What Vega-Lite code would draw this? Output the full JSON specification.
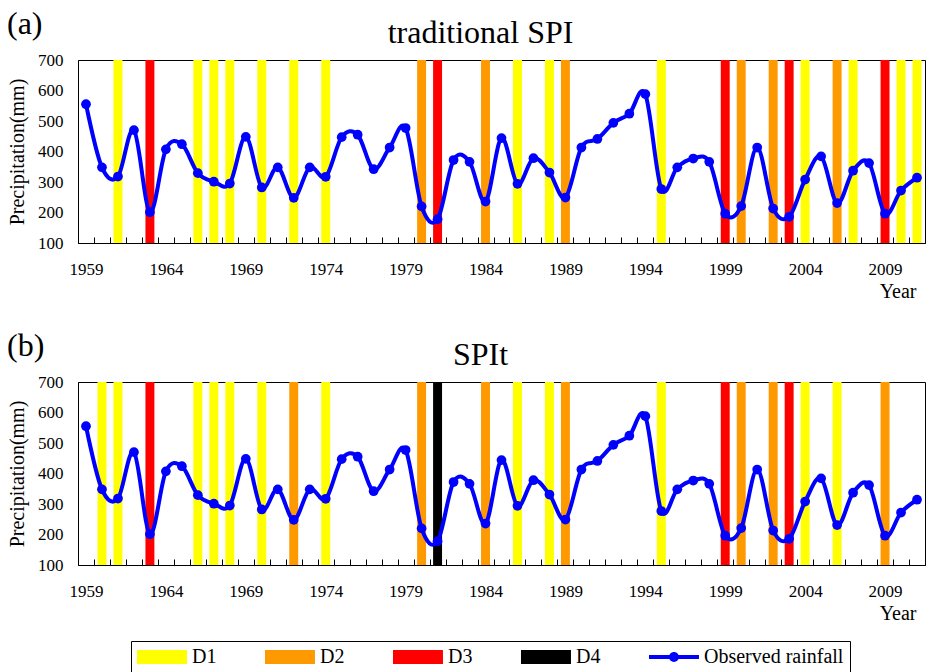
{
  "$schema": "https://vega.github.io/schema/vega-lite/v6.json",
  "padding": {"left": 7, "top": 7, "right": 2, "bottom": 0},
  "background": "white",
  "config": {
    "font": "Liberation Serif",
    "view": {"stroke": "black", "strokeWidth": 1},
    "axis": {"labelFont": "Liberation Serif", "titleFont": "Liberation Serif", "labelColor": "black", "titleColor": "black", "domainColor": "black", "tickColor": "black", "grid": false, "titleFontWeight": "normal", "labelFontSize": 17, "titleFontSize": 20, "labelOverlap": false},
    "axisY": {"labelOverlap": false, "ticks": false, "labelPadding": 15, "titlePadding": 10},
    "axisX": {"ticks": true, "tickSize": -6, "tickWidth": 1, "tickColor": "black", "labelPadding": 24, "labelAngle": 0, "labelOverlap": false, "titlePadding": 4},
    "title": {"font": "Liberation Serif", "fontWeight": "normal", "fontSize": 32, "color": "black"},
    "concat": {"spacing": 27}
  },
  "datasets": {
    "rain": [
      {"year": 1959, "precip": 555}, {"year": 1960, "precip": 348}, {"year": 1961, "precip": 318}, {"year": 1962, "precip": 470},
      {"year": 1963, "precip": 201}, {"year": 1964, "precip": 407}, {"year": 1965, "precip": 424}, {"year": 1966, "precip": 329},
      {"year": 1967, "precip": 301}, {"year": 1968, "precip": 295}, {"year": 1969, "precip": 448}, {"year": 1970, "precip": 282},
      {"year": 1971, "precip": 348}, {"year": 1972, "precip": 248}, {"year": 1973, "precip": 348}, {"year": 1974, "precip": 317},
      {"year": 1975, "precip": 447}, {"year": 1976, "precip": 455}, {"year": 1977, "precip": 342}, {"year": 1978, "precip": 413},
      {"year": 1979, "precip": 477}, {"year": 1980, "precip": 220}, {"year": 1981, "precip": 178}, {"year": 1982, "precip": 372},
      {"year": 1983, "precip": 366}, {"year": 1984, "precip": 236}, {"year": 1985, "precip": 444}, {"year": 1986, "precip": 294},
      {"year": 1987, "precip": 378}, {"year": 1988, "precip": 331}, {"year": 1989, "precip": 249}, {"year": 1990, "precip": 413},
      {"year": 1991, "precip": 441}, {"year": 1992, "precip": 494}, {"year": 1993, "precip": 524}, {"year": 1994, "precip": 588},
      {"year": 1995, "precip": 277}, {"year": 1996, "precip": 348}, {"year": 1997, "precip": 377}, {"year": 1998, "precip": 366},
      {"year": 1999, "precip": 196}, {"year": 2000, "precip": 221}, {"year": 2001, "precip": 413}, {"year": 2002, "precip": 213},
      {"year": 2003, "precip": 186}, {"year": 2004, "precip": 308}, {"year": 2005, "precip": 384}, {"year": 2006, "precip": 231},
      {"year": 2007, "precip": 337}, {"year": 2008, "precip": 362}, {"year": 2009, "precip": 196}, {"year": 2010, "precip": 272},
      {"year": 2011, "precip": 314}
    ],
    "spi": [
      {"year": 1961, "class": "D1"}, {"year": 1963, "class": "D3"}, {"year": 1966, "class": "D1"}, {"year": 1967, "class": "D1"},
      {"year": 1968, "class": "D1"}, {"year": 1970, "class": "D1"}, {"year": 1972, "class": "D1"}, {"year": 1974, "class": "D1"},
      {"year": 1980, "class": "D2"}, {"year": 1981, "class": "D3"}, {"year": 1984, "class": "D2"}, {"year": 1986, "class": "D1"},
      {"year": 1988, "class": "D1"}, {"year": 1989, "class": "D2"}, {"year": 1995, "class": "D1"}, {"year": 1999, "class": "D3"},
      {"year": 2000, "class": "D2"}, {"year": 2002, "class": "D2"}, {"year": 2003, "class": "D3"}, {"year": 2004, "class": "D1"},
      {"year": 2006, "class": "D2"}, {"year": 2007, "class": "D1"}, {"year": 2009, "class": "D3"}, {"year": 2010, "class": "D1"},
      {"year": 2011, "class": "D1"}
    ],
    "spit": [
      {"year": 1960, "class": "D1"}, {"year": 1961, "class": "D1"}, {"year": 1963, "class": "D3"}, {"year": 1966, "class": "D1"},
      {"year": 1967, "class": "D1"}, {"year": 1968, "class": "D1"}, {"year": 1970, "class": "D1"}, {"year": 1972, "class": "D2"},
      {"year": 1974, "class": "D1"}, {"year": 1980, "class": "D2"}, {"year": 1981, "class": "D4"}, {"year": 1984, "class": "D2"},
      {"year": 1986, "class": "D1"}, {"year": 1988, "class": "D1"}, {"year": 1989, "class": "D2"}, {"year": 1995, "class": "D1"},
      {"year": 1999, "class": "D3"}, {"year": 2000, "class": "D2"}, {"year": 2002, "class": "D2"}, {"year": 2003, "class": "D3"},
      {"year": 2004, "class": "D1"}, {"year": 2006, "class": "D1"}, {"year": 2009, "class": "D2"}
    ]
  },
  "vconcat": [
    {
      "title": {"text": "(a)", "anchor": "start", "frame": "bounds", "offset": -24},
      "vconcat": [
        {
          "title": {"text": "traditional SPI", "dx": -21, "offset": 1},
          "width": 847,
          "height": 183,
          "layer": [
            {
              "data": {"name": "spi"},
              "mark": {"type": "bar", "width": {"band": 0.56}},
              "encoding": {
                "x": {"field": "year", "type": "ordinal", "title": "Year",
                  "scale": {"type": "band", "paddingInner": 0, "paddingOuter": 0},
                  "axis": {"tickBand": "extent", "ticks": true, "tickSize": -6, "zindex": 1, "labelOverlap": false,
                    "labelExpr": "(datum.value - 1959) % 5 == 0 ? datum.label : ''", "titleAnchor": "end", "titleAlign": "right", "titleX": 838}},
                "y": {"datum": 700, "type": "quantitative", "title": "Precipitation(mm)",
                  "scale": {"domain": [100, 700], "nice": false, "zero": false},
                  "axis": {"values": [100, 200, 300, 400, 500, 600, 700], "labelOverlap": false}},
                "y2": {"datum": 100},
                "color": {"field": "class", "type": "nominal",
                  "scale": {"domain": ["D1", "D2", "D3", "D4", "Observed rainfall"], "range": ["#FFFF00", "#FF9900", "#FF0000", "#000000", "#0000FF"]},
                  "legend": {"title": null, "orient": "none", "legendX": 53, "legendY": 581, "direction": "horizontal",
                    "symbolSize": 196, "symbolStrokeWidth": 0, "labelFont": "Liberation Serif", "labelFontSize": 20, "labelColor": "black",
                    "labelOffset": 35, "columnPadding": 47, "padding": 6, "strokeColor": "black",
                    "encode": {"symbols": {"update": {"shape": {"signal": "datum.value === 'Observed rainfall' ? 'M-1.43,-0.29L5.71,-0.29L5.71,0.29L-1.43,0.29Z M1.43,0A0.71,0.71 0 1,1 2.85,0A0.71,0.71 0 1,1 1.43,0Z' : 'M-1.43,-1L5.71,-1L5.71,1L-1.43,1Z'"}}}}}}
              }
            },
            {
              "data": {"name": "rain"},
              "mark": {"type": "line", "color": "#0000FF", "strokeWidth": 4, "interpolate": "cardinal"},
              "encoding": {
                "x": {"field": "year", "type": "ordinal", "title": "Year", "bandPosition": 0.5,
                  "axis": {"tickBand": "extent", "ticks": true, "tickSize": -6, "zindex": 1, "labelOverlap": false,
                    "labelExpr": "(datum.value - 1959) % 5 == 0 ? datum.label : ''", "titleAnchor": "end", "titleAlign": "right", "titleX": 838}},
                "y": {"field": "precip", "type": "quantitative", "title": "Precipitation(mm)",
                  "axis": {"values": [100, 200, 300, 400, 500, 600, 700], "labelOverlap": false}}
              }
            },
            {
              "data": {"name": "rain"},
              "mark": {"type": "circle", "size": 95, "opacity": 1},
              "encoding": {
                "x": {"field": "year", "type": "ordinal", "title": "Year", "bandPosition": 0.5,
                  "axis": {"tickBand": "extent", "ticks": true, "tickSize": -6, "zindex": 1, "labelOverlap": false,
                    "labelExpr": "(datum.value - 1959) % 5 == 0 ? datum.label : ''", "titleAnchor": "end", "titleAlign": "right", "titleX": 838}},
                "y": {"field": "precip", "type": "quantitative", "title": "Precipitation(mm)",
                  "axis": {"values": [100, 200, 300, 400, 500, 600, 700], "labelOverlap": false}},
                "color": {"datum": "Observed rainfall", "type": "nominal"}
              }
            }
          ]
        }
      ]
    },
    {
      "title": {"text": "(b)", "anchor": "start", "frame": "bounds", "offset": -24},
      "vconcat": [
        {
          "title": {"text": "SPIt", "dx": -21, "offset": 1},
          "width": 847,
          "height": 183,
          "layer": [
            {
              "data": {"name": "spit"},
              "mark": {"type": "bar", "width": {"band": 0.56}},
              "encoding": {
                "x": {"field": "year", "type": "ordinal", "title": "Year",
                  "scale": {"type": "band", "paddingInner": 0, "paddingOuter": 0},
                  "axis": {"tickBand": "extent", "ticks": true, "tickSize": -6, "zindex": 1, "labelOverlap": false,
                    "labelExpr": "(datum.value - 1959) % 5 == 0 ? datum.label : ''", "titleAnchor": "end", "titleAlign": "right", "titleX": 838}},
                "y": {"datum": 700, "type": "quantitative", "title": "Precipitation(mm)",
                  "scale": {"domain": [100, 700], "nice": false, "zero": false},
                  "axis": {"values": [100, 200, 300, 400, 500, 600, 700], "labelOverlap": false}},
                "y2": {"datum": 100},
                "color": {"field": "class", "type": "nominal"}
              }
            },
            {
              "data": {"name": "rain"},
              "mark": {"type": "line", "color": "#0000FF", "strokeWidth": 4, "interpolate": "cardinal"},
              "encoding": {
                "x": {"field": "year", "type": "ordinal", "title": "Year", "bandPosition": 0.5,
                  "axis": {"tickBand": "extent", "ticks": true, "tickSize": -6, "zindex": 1, "labelOverlap": false,
                    "labelExpr": "(datum.value - 1959) % 5 == 0 ? datum.label : ''", "titleAnchor": "end", "titleAlign": "right", "titleX": 838}},
                "y": {"field": "precip", "type": "quantitative", "title": "Precipitation(mm)",
                  "axis": {"values": [100, 200, 300, 400, 500, 600, 700], "labelOverlap": false}}
              }
            },
            {
              "data": {"name": "rain"},
              "mark": {"type": "circle", "size": 95, "opacity": 1},
              "encoding": {
                "x": {"field": "year", "type": "ordinal", "title": "Year", "bandPosition": 0.5,
                  "axis": {"tickBand": "extent", "ticks": true, "tickSize": -6, "zindex": 1, "labelOverlap": false,
                    "labelExpr": "(datum.value - 1959) % 5 == 0 ? datum.label : ''", "titleAnchor": "end", "titleAlign": "right", "titleX": 838}},
                "y": {"field": "precip", "type": "quantitative", "title": "Precipitation(mm)",
                  "axis": {"values": [100, 200, 300, 400, 500, 600, 700], "labelOverlap": false}},
                "color": {"datum": "Observed rainfall", "type": "nominal"}
              }
            }
          ]
        }
      ]
    }
  ]
}
